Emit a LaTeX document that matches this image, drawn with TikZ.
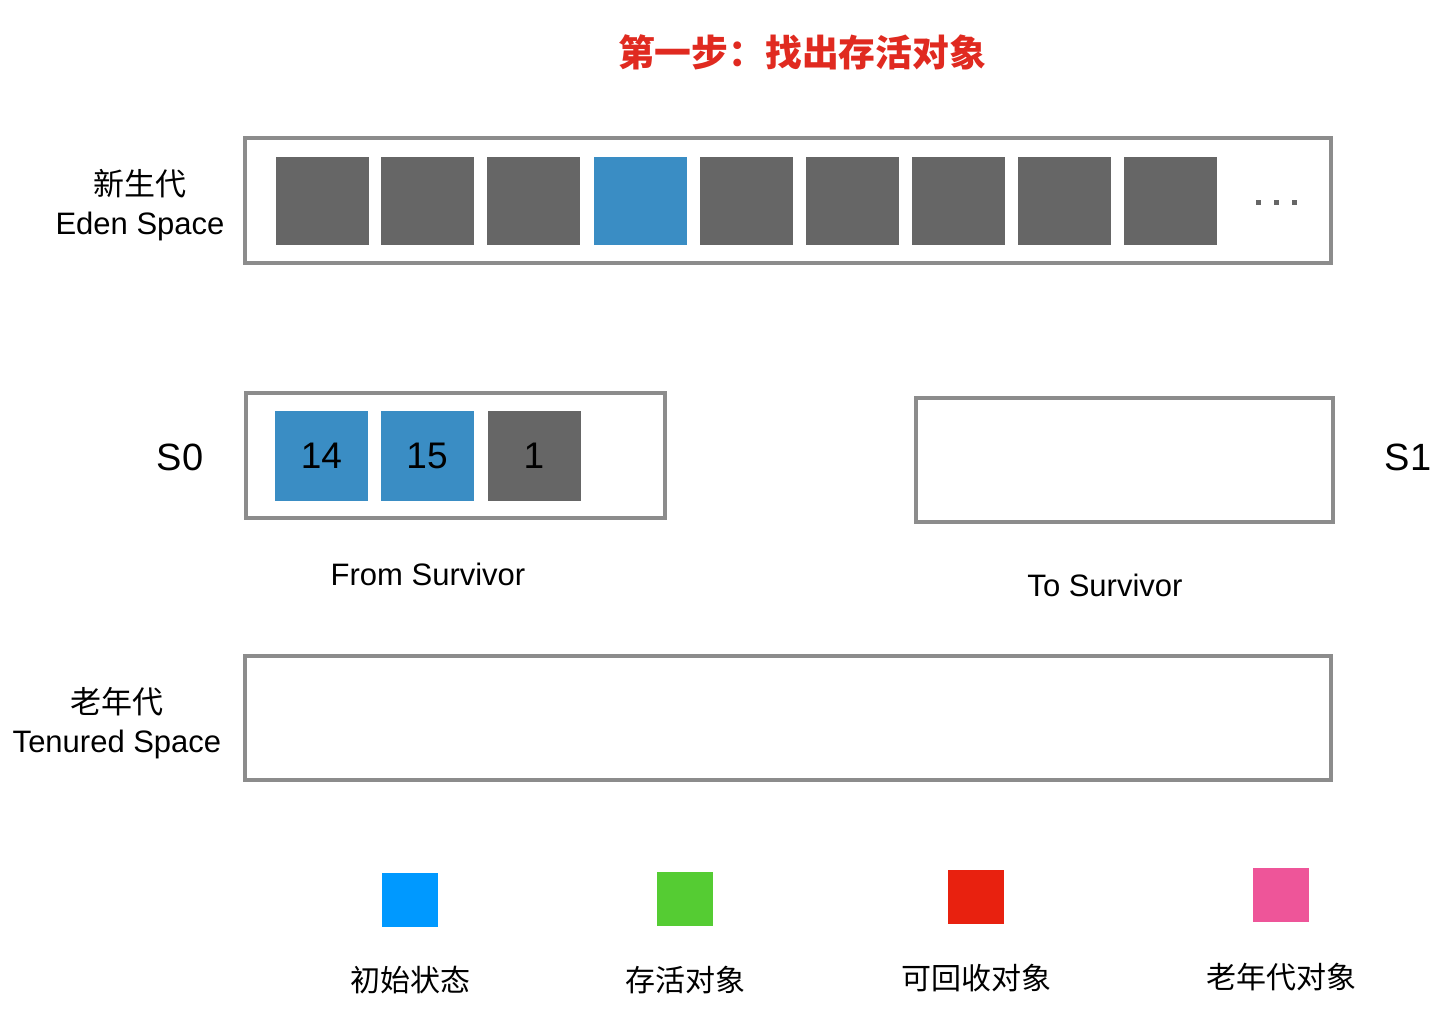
\documentclass[tikz,border=0pt]{standalone}
\usepackage{fontspec}
\setmainfont{Liberation Sans}
\newfontfamily\cjk{Noto Sans CJK SC}
\definecolor{boxgrey}{HTML}{8C8C8C}
\definecolor{blkgrey}{HTML}{666666}
\definecolor{blkblue}{HTML}{3A8DC4}
\definecolor{lgblue}{HTML}{0099FF}
\definecolor{lggreen}{HTML}{55CC33}
\definecolor{lgred}{HTML}{E8210F}
\definecolor{lgpink}{HTML}{EE5599}
\definecolor{titlered}{HTML}{E02A20}
\begin{document}
\begin{tikzpicture}[x=0.5pt,y=-0.5pt,
  area/.style={draw=boxgrey,line width=2pt,fill=white},
  blk/.style={inner sep=0pt,minimum width=46.5pt,minimum height=44pt,font=\fontsize{18.5}{20}\selectfont},
  gblk/.style={blk,fill=blkgrey},
  bblk/.style={blk,fill=blkblue},
  lbl/.style={font=\fontsize{15.5}{19.5}\selectfont,align=center,inner sep=0pt},
  big/.style={font=\fontsize{19}{22}\selectfont,inner sep=0pt},
  lgsq/.style={inner sep=0pt,minimum width=28pt,minimum height=27pt},
  lgtxt/.style={font=\cjk\fontsize{15}{18}\selectfont,inner sep=0pt}
]
\useasboundingbox[fill=white] (0,0) rectangle (1456,1016);

% title
\node[font=\cjk\bfseries\fontsize{18.4}{22}\selectfont,text=titlered,inner sep=0pt] (title) at (802,52) {第一步：找出存活对象};

% Eden
\node[area,minimum width=543pt,minimum height=62.5pt,inner sep=0pt] (eden) at (788,200.5) {};
\node[lbl] (edenlbl) at (140,205) {{\cjk 新生代}\\Eden Space};
\node[gblk] (e1) at (322,201) {};
\node[gblk] (e2) at (427.5,201) {};
\node[gblk] (e3) at (533.5,201) {};
\node[bblk] (e4) at (640,201) {};
\node[gblk] (e5) at (746,201) {};
\node[gblk] (e6) at (852.5,201) {};
\node[gblk] (e7) at (958.5,201) {};
\node[gblk] (e8) at (1064.5,201) {};
\node[gblk] (e9) at (1170.5,201) {};
\foreach \i/\x in {1/1258,2/1276,3/1294}
  \node[fill=blkgrey,inner sep=0pt,minimum size=2.5pt] (dot\i) at (\x,203) {};

% S0
\node[big] (s0) at (180,457) {S0};
\node[area,minimum width=209.5pt,minimum height=62.5pt,inner sep=0pt] (from) at (455.5,455.5) {};
\node[bblk,minimum height=45pt] (f1) at (321.5,455.5) {\raisebox{-1pt}{14}};
\node[bblk,minimum height=45pt] (f2) at (427,455.5) {\raisebox{-1pt}{15}};
\node[gblk,minimum height=45pt] (f3) at (534,455.5) {\raisebox{-1pt}{1}};
\node[lbl] (fromlbl) at (428,574) {From Survivor};

% S1
\node[area,minimum width=208.5pt,minimum height=62pt,inner sep=0pt] (to) at (1124.5,460) {};
\node[big] (s1) at (1408,457) {S1};
\node[lbl] (tolbl) at (1105,585) {To Survivor};

% Tenured
\node[area,minimum width=543pt,minimum height=62pt,inner sep=0pt] (old) at (788,718) {};
\node[lbl] (oldlbl) at (117,723) {{\cjk 老年代}\\Tenured Space};

% legend
\node[lgsq,fill=lgblue] (lg1) at (409.5,900) {};
\node[lgsq,fill=lggreen] (lg2) at (685,899) {};
\node[lgsq,fill=lgred] (lg3) at (976,896.5) {};
\node[lgsq,fill=lgpink] (lg4) at (1281,895) {};
\node[lgtxt] (lt1) at (410,980) {初始状态};
\node[lgtxt] (lt2) at (685,980) {存活对象};
\node[lgtxt] (lt3) at (976,978) {可回收对象};
\node[lgtxt] (lt4) at (1281,977) {老年代对象};
\end{tikzpicture}
\end{document}
